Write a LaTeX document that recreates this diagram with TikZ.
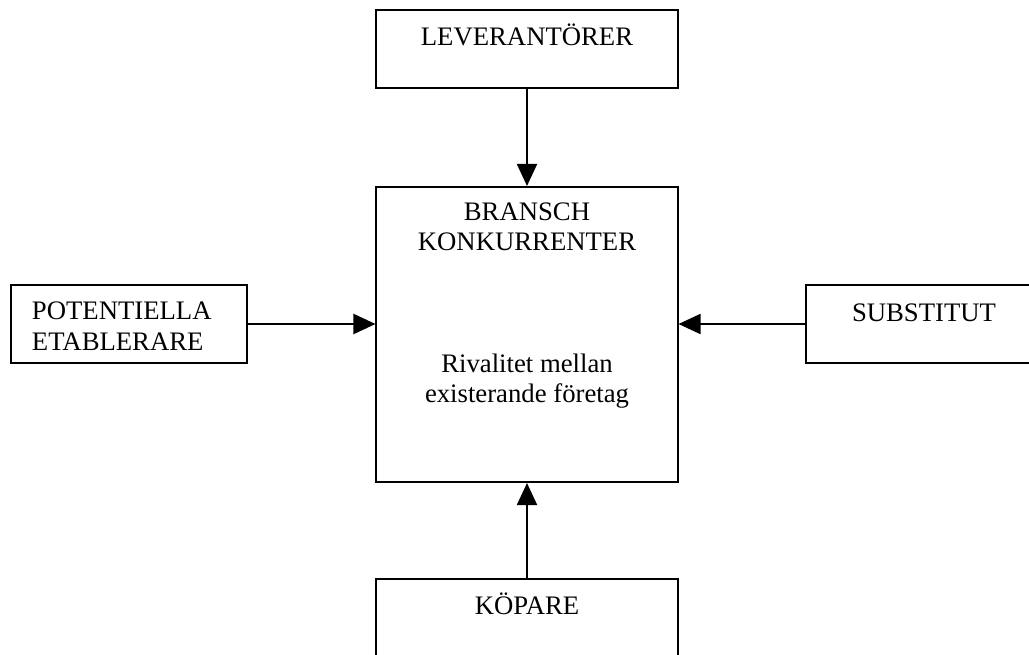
\documentclass[tikz,border=0pt]{standalone}
\usepackage{fontspec}
\setmainfont{Liberation Serif}
\usetikzlibrary{positioning,calc,arrows.meta}

\begin{document}
\begin{tikzpicture}[x=0.025cm, y=-0.025cm, line width=1.4pt,
    box/.style={draw, minimum width=7.525cm, minimum height=1.95cm,
      inner sep=0},
    boxtext/.style={inner sep=0, font=\fontsize{19}{21.5}\selectfont,
      align=center},
    force/.style={-{Triangle[length=0.55cm, width=0.5cm]}}]
  \useasboundingbox (0,0) rectangle (1029,655);
  \node[box] (lev) at (527,49) {};
  \node[box, minimum height=7.375cm] (rival) at (527,334.5) {};
  \node[box, minimum width=5.9cm] (pot) at (129,324) {};
  \node[box, minimum width=5.9cm] (sub) at (924,324) {};
  \node[box] (kop) at (527,618) {};
  \node[boxtext, anchor=base] (levtext) at ($(lev.north)+(0,36)$) {LEVERANTÖRER};
  \node[boxtext, anchor=base] (branschtext) at ($(rival.north)+(0,65)$)
    {BRANSCH\\KONKURRENTER};
  \node[boxtext, anchor=base] (rivaltext) at ($(rival.north)+(0,217)$)
    {Rivalitet mellan\\existerande företag};
  \node[boxtext, anchor=base west, align=left] (pottext)
    at ($(pot.north west)+(21,66)$) {POTENTIELLA\\ETABLERARE};
  \node[boxtext, anchor=base] (subtext) at ($(sub.north)+(0,37)$) {SUBSTITUT};
  \node[boxtext, anchor=base] (koptext) at ($(kop.north)+(0,36)$) {KÖPARE};
  \draw[force] (lev) -- (rival);
  \draw[force] (pot) -- (pot -| rival.west);
  \draw[force] (sub) -- (sub -| rival.east);
  \draw[force] (kop) -- (rival);
\end{tikzpicture}
\end{document}
